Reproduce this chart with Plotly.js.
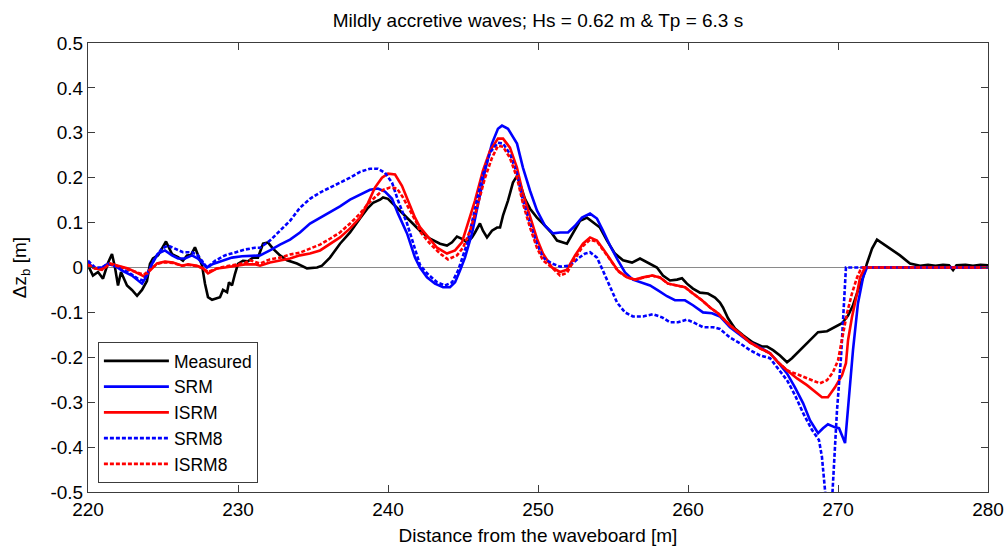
<!DOCTYPE html>
<html>
<head>
<meta charset="utf-8">
<script src="https://cdn.plot.ly/plotly-3.0.1.min.js"></script>
<style>html,body{margin:0;padding:0;background:#fff;}#chart{width:1008px;height:547px;}</style>
</head>
<body>
<div id="chart"></div>
<script>
// ---- Data ----
const measuredX = [220.0,220.33,220.67,221.0,221.33,221.6,221.8,222.0,222.2,222.6,222.93,223.27,223.6,223.93,224.13,224.33,224.67,224.93,225.2,225.33,225.6,226.0,226.33,226.6,226.87,227.13,227.33,227.6,227.8,228.0,228.27,228.6,228.8,229.0,229.27,229.4,229.6,229.8,230.0,230.33,230.67,231.0,231.33,231.67,232.0,232.33,232.8,233.27,233.93,234.6,235.27,235.6,236.13,236.8,237.47,238.13,238.67,239.0,239.47,239.67,240.0,240.33,241.0,241.67,242.13,242.8,243.47,243.93,244.27,244.6,244.93,245.27,245.6,245.8,246.13,246.33,246.6,246.93,247.27,247.47,247.67,248.0,248.33,248.6,248.8,249.13,249.47,249.93,250.33,250.93,251.27,251.93,252.33,252.8,253.27,253.67,254.13,254.6,255.13,255.67,256.27,256.8,257.27,257.93,258.33,258.8,259.27,259.6,259.93,260.33,260.8,261.33,261.8,262.13,262.33,262.67,263.13,263.67,264.33,264.93,265.27,265.67,266.13,266.6,266.93,267.47,268.13,268.67,269.27,269.8,270.27,270.67,271.0,271.33,271.67,271.93,272.27,272.6,273.0,273.47,274.13,274.8,275.47,276.0,276.5,277.0,277.4,277.67,277.9,278.5,279.0,279.5,280.0];
const measuredY = [0.005,-0.018,-0.01,-0.025,0.01,0.03,0.0,-0.04,-0.01,-0.04,-0.05,-0.063,-0.05,-0.03,0.008,0.02,0.027,0.042,0.058,0.049,0.03,0.023,0.015,0.027,0.028,0.045,0.027,0.005,-0.036,-0.066,-0.072,-0.069,-0.066,-0.05,-0.055,-0.033,-0.04,-0.014,0.008,0.015,0.014,0.022,0.022,0.053,0.056,0.042,0.027,0.016,0.009,-0.002,0.0,0.004,0.022,0.053,0.078,0.109,0.133,0.144,0.151,0.156,0.153,0.142,0.12,0.098,0.082,0.064,0.053,0.049,0.056,0.069,0.064,0.056,0.067,0.078,0.098,0.082,0.067,0.082,0.089,0.089,0.116,0.149,0.189,0.204,0.187,0.153,0.131,0.111,0.098,0.076,0.06,0.053,0.076,0.104,0.111,0.1,0.089,0.06,0.031,0.016,0.011,0.02,0.011,0.0,-0.018,-0.029,-0.027,-0.024,-0.036,-0.047,-0.056,-0.058,-0.067,-0.078,-0.089,-0.113,-0.136,-0.151,-0.167,-0.176,-0.176,-0.184,-0.196,-0.211,-0.202,-0.184,-0.162,-0.144,-0.142,-0.133,-0.124,-0.107,-0.084,-0.051,-0.022,0.009,0.042,0.062,0.053,0.042,0.027,0.009,0.004,0.006,0.004,0.006,0.005,-0.006,0.005,0.006,0.004,0.006,0.005];

const srmX = [220.0,220.33,220.8,221.33,221.8,222.27,222.93,223.33,223.6,223.93,224.27,224.67,225.13,225.6,226.0,226.47,226.93,227.33,227.93,228.33,228.93,229.6,230.27,231.0,231.47,232.13,232.8,233.47,234.13,234.8,235.47,236.13,236.8,237.47,238.13,238.8,239.33,239.8,240.27,240.67,241.27,241.8,242.13,242.6,243.13,243.67,244.13,244.47,244.8,245.13,245.6,246.0,246.47,246.93,247.33,247.6,248.0,248.6,249.0,249.47,249.93,250.47,251.0,251.47,252.0,252.47,252.93,253.47,253.93,254.33,254.8,255.33,255.8,256.33,256.93,257.47,258.0,258.6,259.13,259.8,260.33,261.0,261.6,262.13,262.8,263.47,264.13,264.8,265.47,266.0,266.6,267.13,267.67,268.13,268.67,269.0,269.33,269.8,270.07,270.47,271.0,271.33,271.67,271.93,275.0,280.0];
const srmY = [0.011,0.0,-0.003,0.008,0.004,-0.007,-0.018,-0.029,-0.036,-0.018,0.008,0.031,0.038,0.027,0.02,0.02,0.027,0.02,0.0,0.008,0.015,0.022,0.025,0.027,0.027,0.038,0.051,0.062,0.078,0.098,0.111,0.122,0.136,0.151,0.162,0.173,0.176,0.169,0.153,0.12,0.076,0.022,0.0,-0.022,-0.036,-0.044,-0.044,-0.033,-0.007,0.022,0.076,0.142,0.216,0.276,0.309,0.316,0.309,0.276,0.222,0.171,0.127,0.093,0.076,0.078,0.078,0.093,0.111,0.12,0.109,0.082,0.049,0.016,-0.011,-0.027,-0.033,-0.04,-0.051,-0.064,-0.073,-0.073,-0.084,-0.1,-0.102,-0.109,-0.133,-0.151,-0.167,-0.178,-0.191,-0.211,-0.236,-0.267,-0.302,-0.34,-0.369,-0.358,-0.349,-0.356,-0.358,-0.391,-0.184,-0.08,-0.022,0.0,0.0,0.0];

const isrmX = [220.0,220.47,220.93,221.47,222.0,222.67,223.33,223.73,224.13,224.6,225.13,225.67,226.27,226.67,227.27,227.67,228.0,228.6,229.13,229.8,230.47,231.13,231.47,232.13,232.8,233.47,234.13,234.8,235.47,236.13,236.8,237.47,238.13,238.67,239.13,239.6,240.0,240.47,240.93,241.33,241.8,242.13,242.67,243.27,243.93,244.47,244.93,245.33,245.8,246.33,246.8,247.33,247.67,248.13,248.6,249.0,249.47,249.93,250.33,250.93,251.47,251.93,252.47,253.0,253.47,253.93,254.33,254.8,255.33,255.93,256.47,257.0,257.6,258.13,258.67,259.27,259.8,260.33,260.93,261.47,262.0,262.8,263.47,264.13,264.8,265.47,266.0,266.6,267.27,267.93,268.6,268.93,269.33,269.8,270.27,270.53,270.67,270.93,271.27,271.47,271.8,275.0,280.0];
const isrmY = [0.007,-0.002,-0.004,0.009,0.004,-0.002,-0.013,-0.02,-0.007,0.009,0.013,0.011,0.004,0.007,0.004,-0.002,-0.013,-0.002,0.0,0.004,0.007,0.007,0.004,0.011,0.016,0.02,0.027,0.031,0.038,0.053,0.067,0.087,0.111,0.144,0.178,0.2,0.209,0.207,0.182,0.149,0.111,0.09,0.067,0.044,0.031,0.038,0.056,0.098,0.149,0.216,0.26,0.287,0.287,0.267,0.222,0.164,0.111,0.064,0.031,0.0,-0.01,-0.005,0.027,0.053,0.067,0.06,0.042,0.02,-0.007,-0.022,-0.027,-0.022,-0.018,-0.022,-0.036,-0.04,-0.044,-0.058,-0.073,-0.089,-0.102,-0.129,-0.147,-0.167,-0.18,-0.191,-0.211,-0.229,-0.247,-0.262,-0.28,-0.289,-0.289,-0.267,-0.24,-0.213,-0.162,-0.111,-0.058,-0.022,0.0,0.0,0.0];

const srm8X = [220.0,220.47,220.93,221.33,222.0,222.67,223.33,223.67,224.0,224.47,224.93,225.33,225.8,226.33,226.93,227.33,227.93,228.47,229.13,229.8,230.47,231.13,231.47,232.13,232.8,233.47,234.13,234.8,235.47,236.13,236.8,237.47,238.13,238.8,239.33,239.8,240.27,240.67,241.27,241.8,242.13,242.6,243.27,243.8,244.27,244.67,245.27,245.67,246.27,246.8,247.33,247.67,248.13,248.6,249.0,249.47,249.93,250.33,250.93,251.47,252.13,252.67,253.13,253.47,253.93,254.33,254.8,255.27,255.8,256.33,257.0,257.67,258.27,258.8,259.33,259.93,260.47,261.0,261.67,262.13,262.8,263.47,264.13,264.8,265.47,266.0,266.6,267.13,267.67,268.27,268.73,268.93,269.2,269.4,269.6,269.93,270.2,270.53,275.0,280.0];
const srm8Y = [0.015,0.0,0.0,0.009,0.0,-0.01,-0.025,-0.029,-0.01,0.022,0.042,0.049,0.042,0.034,0.034,0.027,0.0,0.015,0.027,0.034,0.04,0.044,0.044,0.06,0.082,0.104,0.133,0.153,0.167,0.178,0.189,0.2,0.213,0.22,0.22,0.211,0.189,0.149,0.098,0.038,0.006,-0.013,-0.033,-0.04,-0.033,-0.007,0.053,0.111,0.2,0.256,0.278,0.276,0.253,0.209,0.149,0.098,0.053,0.022,0.009,0.002,0.004,0.02,0.031,0.034,0.022,-0.007,-0.044,-0.078,-0.1,-0.109,-0.109,-0.104,-0.111,-0.122,-0.122,-0.116,-0.124,-0.133,-0.133,-0.137,-0.156,-0.169,-0.184,-0.196,-0.202,-0.224,-0.251,-0.284,-0.324,-0.362,-0.384,-0.422,-0.52,-0.56,-0.52,-0.32,-0.2,0.0,0.0,0.0];

const isrm8X = [220.0,220.47,220.93,221.47,222.0,222.67,223.33,223.73,224.13,224.6,225.13,225.67,226.27,226.67,227.27,227.67,228.0,228.6,229.13,229.8,230.47,230.8,231.47,232.13,232.8,233.47,234.13,234.8,235.47,236.13,236.8,237.47,238.13,238.67,239.27,239.67,240.13,240.6,241.0,241.47,241.93,242.13,242.8,243.47,244.0,244.6,245.0,245.47,245.93,246.47,246.93,247.33,247.67,248.13,248.6,249.0,249.47,249.93,250.33,250.93,251.47,251.93,252.47,253.0,253.47,253.93,254.33,254.8,255.33,255.93,256.47,257.0,257.6,258.13,258.67,259.27,259.8,260.33,260.93,261.47,262.0,262.8,263.47,264.13,264.8,265.47,266.0,266.6,267.13,267.67,268.27,268.8,269.27,269.67,270.0,270.27,270.6,270.93,271.27,271.47,271.67,275.0,280.0];
const isrm8Y = [0.005,-0.002,-0.005,0.008,0.003,-0.004,-0.012,-0.016,-0.005,0.008,0.012,0.01,0.004,0.006,0.003,-0.002,-0.01,-0.002,0.002,0.006,0.01,0.016,0.009,0.018,0.022,0.029,0.033,0.042,0.051,0.064,0.078,0.098,0.12,0.142,0.16,0.173,0.178,0.176,0.156,0.127,0.098,0.08,0.053,0.031,0.018,0.027,0.044,0.082,0.133,0.2,0.244,0.271,0.269,0.244,0.2,0.142,0.089,0.044,0.016,0.0,-0.018,-0.012,0.02,0.048,0.062,0.058,0.04,0.018,-0.008,-0.022,-0.027,-0.022,-0.018,-0.022,-0.036,-0.04,-0.044,-0.058,-0.073,-0.089,-0.102,-0.129,-0.147,-0.167,-0.18,-0.191,-0.211,-0.229,-0.236,-0.244,-0.251,-0.258,-0.251,-0.233,-0.207,-0.162,-0.102,-0.058,-0.022,-0.007,0.0,0.0,0.0];

const seriesNames = ['Measured','SRM','ISRM','SRM8','ISRM8'];
const xTickVals = [220,230,240,250,260,270,280];
const xTickText = ['220','230','240','250','260','270','280'];
const yTickVals = [-0.5,-0.4,-0.3,-0.2,-0.1,0,0.1,0.2,0.3,0.4,0.5];
const yTickText = ['-0.5','-0.4','-0.3','-0.2','-0.1','0','0.1','0.2','0.3','0.4','0.5'];
const titleText = 'Mildly accretive waves; Hs = 0.62 m &amp; Tp = 6.3 s';
const xTitle = 'Distance from the waveboard [m]';
const yTitle = '\u0394z<sub>b</sub> [m]';

// ---- Plot ----
const FONT = 'Liberation Sans, Arial, Helvetica, sans-serif';
const FS = 19;
const LW = 2.6;
const DASH = '4px,2px';
const traces = [
  {x: measuredX, y: measuredY, name: seriesNames[0], line: {color: '#000000', width: LW}},
  {x: srmX, y: srmY, name: seriesNames[1], line: {color: '#0000ff', width: LW}},
  {x: isrmX, y: isrmY, name: seriesNames[2], line: {color: '#ff0000', width: LW}},
  {x: srm8X, y: srm8Y, name: seriesNames[3], line: {color: '#0000ff', width: LW, dash: DASH}},
  {x: isrm8X, y: isrm8Y, name: seriesNames[4], line: {color: '#ff0000', width: LW, dash: DASH}}
].map(t => Object.assign({type: 'scatter', mode: 'lines', hoverinfo: 'skip'}, t));

const axisCommon = {
  showgrid: false, showline: true, linecolor: '#3c3c3c', linewidth: 1,
  ticks: 'inside', ticklen: 7, tickwidth: 1, tickcolor: '#3c3c3c', mirror: 'ticks',
  tickfont: {family: FONT, size: FS, color: '#000'}, tickmode: 'array'
};

const layout = {
  width: 1008, height: 547,
  margin: {l: 88, r: 20, t: 43, b: 55, pad: 0},
  paper_bgcolor: '#ffffff', plot_bgcolor: '#ffffff',
  font: {family: FONT, color: '#000'},
  title: {text: titleText, font: {family: FONT, size: FS, color: '#000'},
          xref: 'paper', x: 0.5, xanchor: 'center', yref: 'container', y: 0.963, yanchor: 'middle'},
  xaxis: Object.assign({}, axisCommon, {
    range: [220, 280], tickvals: xTickVals, ticktext: xTickText, zeroline: false,
    title: {text: xTitle, font: {family: FONT, size: FS, color: '#000'}, standoff: 9}
  }),
  yaxis: Object.assign({}, axisCommon, {
    range: [-0.5, 0.5], tickvals: yTickVals, ticktext: yTickText,
    zeroline: true, zerolinecolor: '#8a8a8a', zerolinewidth: 1.5,
    title: {text: yTitle, font: {family: FONT, size: FS, color: '#000'}, standoff: 18}
  }),
  showlegend: true,
  legend: {
    x: 0.011, y: 0.02, xanchor: 'left', yanchor: 'bottom',
    bgcolor: '#ffffff', bordercolor: '#3c3c3c', borderwidth: 1,
    font: {family: FONT, size: 17.5, color: '#000'},
    itemwidth: 65, tracegroupgap: 0, traceorder: 'normal'
  }
};

Plotly.newPlot('chart', traces, layout, {displayModeBar: false, staticPlot: true});
</script>
</body>
</html>
